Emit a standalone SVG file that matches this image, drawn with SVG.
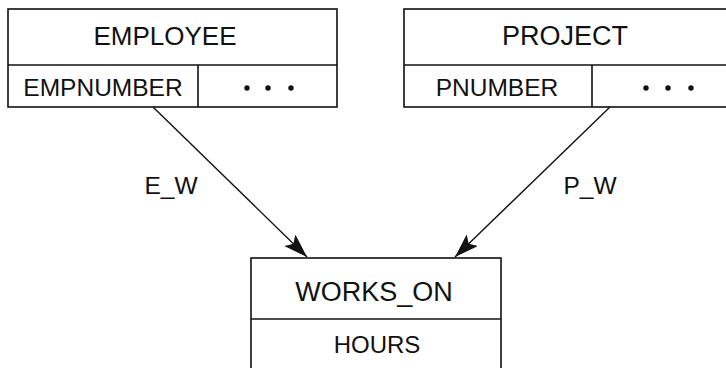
<svg xmlns="http://www.w3.org/2000/svg" width="726" height="368" viewBox="0 0 726 368">
<style>
.box{fill:#fff;stroke:#111;stroke-width:1.6}
.ln{stroke:#111;stroke-width:1.6;fill:none}
.t{font-family:"Liberation Sans",Arial,sans-serif;fill:#111;text-anchor:middle}
.dot{fill:#111}
.conn{stroke:#111;stroke-width:1.4;fill:none}
</style>
<defs>
<marker id="ah" markerUnits="userSpaceOnUse" markerWidth="26" markerHeight="18" refX="24" refY="8" orient="auto">
<path d="M0,0 L24,8 L0,16 L5,8 z" fill="#111"/>
</marker>
</defs>
<rect width="726" height="368" fill="#fff"/>
<g id="employee">
<rect class="box" x="8" y="9" width="329" height="98"/>
<line class="ln" x1="8" y1="65" x2="337" y2="65"/>
<line class="ln" x1="198" y1="65" x2="198" y2="107"/>
<text class="t" x="165" y="45" font-size="26">EMPLOYEE</text>
<text class="t" x="103" y="96" font-size="24.5">EMPNUMBER</text>
<circle class="dot" cx="247" cy="88" r="2.7"/>
<circle class="dot" cx="268" cy="88" r="2.7"/>
<circle class="dot" cx="291" cy="88" r="2.7"/>
</g>
<g id="project">
<rect class="box" x="404" y="9" width="330" height="98"/>
<line class="ln" x1="404" y1="65" x2="734" y2="65"/>
<line class="ln" x1="592" y1="65" x2="592" y2="107"/>
<text class="t" x="565" y="45" font-size="27">PROJECT</text>
<text class="t" x="497" y="96" font-size="24.5">PNUMBER</text>
<circle class="dot" cx="646" cy="88" r="2.7"/>
<circle class="dot" cx="668" cy="88" r="2.7"/>
<circle class="dot" cx="691" cy="88" r="2.7"/>
</g>
<g id="works_on">
<rect class="box" x="251" y="258" width="250" height="120"/>
<line class="ln" x1="251" y1="319" x2="501" y2="319"/>
<text class="t" x="374" y="301" font-size="27">WORKS_ON</text>
<text class="t" x="377" y="353" font-size="24">HOURS</text>
</g>
<g id="connectors">
<line class="conn" x1="153" y1="107" x2="307" y2="257" marker-end="url(#ah)"/>
<line class="conn" x1="610" y1="107" x2="455" y2="257" marker-end="url(#ah)"/>
<text class="t" x="171" y="194" font-size="24.5">E_W</text>
<text class="t" x="590" y="194" font-size="24.5">P_W</text>
</g>
</svg>
